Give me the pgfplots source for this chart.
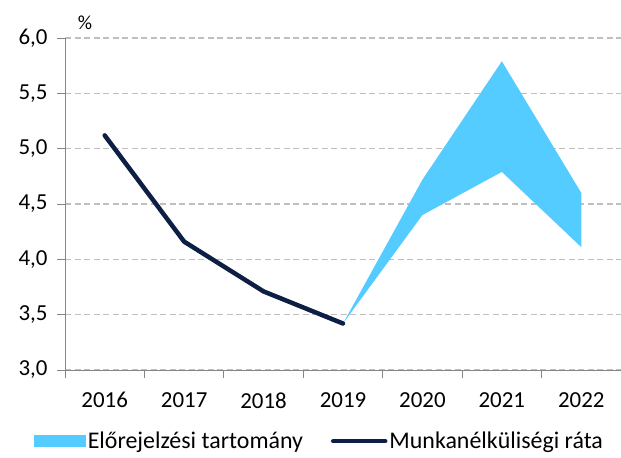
\documentclass[border=0pt]{standalone}
\usepackage{fontspec}
\setmainfont{Carlito}
\usepackage{pgfplots}
\pgfplotsset{compat=1.18}
\definecolor{areac}{RGB}{85,204,255}
\definecolor{linec}{RGB}{13,31,69}
\definecolor{gridc}{RGB}{191,191,191}
\definecolor{axc}{RGB}{134,134,134}
\begin{document}
\begin{tikzpicture}
\useasboundingbox (-65bp,-88bp) rectangle (556bp,370bp);
\begin{axis}[
  scale only axis, width=556bp, height=332bp,
  xmin=-0.5, xmax=6.5, ymin=3, ymax=6,
  axis x line*=bottom, axis y line*=left,
  axis line style={axc, line width=0.8pt, -},
  xtick={0,...,6},
  xticklabels={2016,2017,2018,2019,2020,2021,2022},
  minor xtick={-0.5,0.5,...,6.5},
  major x tick style={draw=none},
  minor x tick style={axc, line width=0.8pt},
  minor tick length=8bp,
  x tick label style={yshift=-11bp},
  ytick={3,3.5,...,6},
  ytick style={axc, line width=0.8pt},
  major tick length=8bp,
  tick align=outside,
  ymajorgrids,
  grid style={gridc, line width=1.2pt, dash pattern=on 6bp off 3.5bp},
  y tick label style={/pgf/number format/fixed, /pgf/number format/fixed zerofill, /pgf/number format/precision=1, /pgf/number format/use comma, xshift=-6bp},
  /pgf/number format/assume math mode=true,
  ticklabel style={font=\fontsize{23}{26}\selectfont},
  clip=false,
  legend columns=2,
  legend style={at={(rel axis cs:0.4575,-0.214)}, anchor=center, draw=none,
    font=\fontsize{24}{27}\selectfont, /tikz/every even column/.append style={column sep=26bp}},
]
\addplot[fill=areac, draw=none, area legend,
  legend image code/.code={\fill[areac] (0bp,-6bp) rectangle (52bp,6bp);}]
  coordinates {(3,3.42) (4,4.72) (5,5.79) (6,4.60) (6,4.11) (5,4.79) (4,4.40) (3,3.42)} -- cycle;
\addlegendentry{Előrejelzési tartomány}
\addplot[linec, line width=4.5bp, line cap=round, line join=round,
  legend image code/.code={\draw[linec, line width=4.5bp, line cap=round] (0bp,0bp) -- (52bp,0bp);}]
  coordinates {(0,5.12) (1,4.16) (2,3.71) (3,3.42)};
\addlegendentry{Munkanélküliségi ráta}
\node[font=\fontsize{20}{22}\selectfont] at (rel axis cs:0.036,1.045) {\%};
\end{axis}
\end{tikzpicture}
\end{document}
